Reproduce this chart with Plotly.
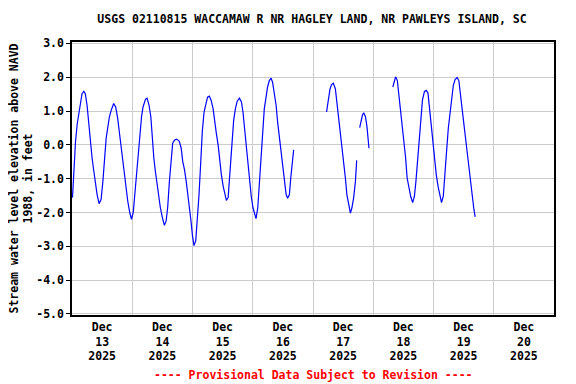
import datetime as dt
import plotly.graph_objects as go

# Hours since 2025-12-13 00:00 and water level (ft); None marks data gaps
hours = [
    0.2, 0.6, 1.0, 1.4, 2.1, 2.7, 3.4, 4.0, 4.7, 5.3, 6.0, 6.7, 7.4, 8.0, 8.7, 9.4, 10.0, 10.8,
    11.6, 12.3, 12.9, 13.6, 14.3, 14.9, 15.6, 16.6, 17.4, 18.2, 19.0, 19.8, 20.6, 21.4, 22.2,
    23.0, 23.7, 24.4, 25.0, 25.7, 26.3, 27.0, 27.7, 28.3, 29.3, 29.9, 30.7, 31.4, 31.9, 32.6,
    33.2, 33.9, 34.5, 35.2, 36.0, 36.8, 37.5, 38.1, 38.8, 39.5, 40.1, 40.8, 41.6, 42.7, 43.5,
    44.1, 44.8, 45.5, 46.1, 46.8, 47.4, 48.0, 48.6, 49.3, 50.0, 50.6, 51.3, 51.9, 52.6, 53.3,
    54.0, 54.7, 55.4, 56.2, 56.8, 57.5, 58.2, 58.8, 59.5, 60.2, 60.8, 61.5, 62.2, 62.8, 63.4,
    63.8, 64.4, 65.1, 65.8, 66.7, 67.5, 68.1, 68.8, 69.5, 70.1, 70.8, 71.4, 72.1, 72.8, 73.3,
    74.0, 74.6, 75.3, 75.9, 76.6, 77.3, 77.9, 78.6, 79.3, 79.9, 80.6, 81.3, 81.9, 82.6, 83.3,
    83.9, 84.6, 85.3, 85.9, 86.6, 87.2, 87.9, 88.3,
    95.0,
    101.4, 102.1, 102.8, 103.4, 104.1, 104.9, 105.5, 106.2, 106.9, 107.5, 108.2, 108.9, 109.5,
    110.2, 110.9, 111.5, 112.2, 112.9, 113.4,
    114.0,
    114.6, 115.2, 115.7, 116.2, 116.9, 117.5, 117.9, 118.3,
    123.0,
    127.8, 128.4, 128.9, 129.6, 130.2, 130.9, 131.5, 132.2, 132.9, 133.5, 134.2, 134.9, 135.7,
    136.4, 137.0, 137.7, 138.3, 139.0, 139.6, 140.4, 141.1, 141.8, 142.4, 143.1, 143.8, 144.4,
    145.1, 145.8, 146.4, 147.2, 147.9, 148.6, 149.2, 149.9, 150.6, 151.2, 151.9, 152.6, 153.4,
    154.1, 154.7, 155.4, 156.0, 156.7, 157.4, 158.0, 158.7, 159.4, 160.1, 160.6,
]
levels = [
    -1.56, -0.88, -0.39, 0.10, 0.63, 0.93, 1.27, 1.51, 1.58, 1.51, 1.17, 0.53, 0.00, -0.39, -0.78, -1.17, -1.47, -1.74,
    -1.61, -1.08, -0.39, 0.19, 0.54, 0.83, 1.02, 1.22, 1.12, 0.78, 0.29, -0.20, -0.78, -1.22, -1.66,
    -2.00, -2.20, -2.00, -1.47, -0.88, -0.15, 0.39, 0.83, 1.12, 1.35, 1.38, 1.17, 0.83, 0.24, -0.39,
    -0.78, -1.17, -1.47, -1.86, -2.15, -2.38, -2.25, -1.86, -1.08, -0.44, 0.05, 0.14, 0.17, 0.11, -0.10,
    -0.49, -0.73, -1.08, -1.42, -1.86, -2.25, -2.69, -2.98, -2.83, -2.15, -1.47, -0.49, 0.39, 0.97, 1.22,
    1.41, 1.44, 1.32, 1.07, 0.68, 0.34, 0.00, -0.49, -0.88, -1.22, -1.47, -1.64, -1.56, -0.98, -0.40,
    0.00, 0.73, 1.07, 1.29, 1.38, 1.27, 0.97, 0.39, -0.15, -0.69, -1.13, -1.52, -1.86, -2.10, -2.18,
    -1.86, -1.17, -0.39, 0.49, 1.07, 1.41, 1.71, 1.90, 1.97, 1.85, 1.56, 1.17, 0.68, 0.24, -0.20,
    -0.69, -1.08, -1.47, -1.58, -1.47, -0.93, -0.49, -0.15,
    None,
    0.97, 1.37, 1.66, 1.78, 1.82, 1.66, 1.27, 0.88, 0.49, -0.05, -0.49, -0.98, -1.47,
    -1.81, -2.02, -1.86, -1.56, -1.08, -0.46,
    None,
    0.51, 0.73, 0.88, 0.95, 0.83, 0.54, 0.19, -0.10,
    None,
    1.71, 1.93, 2.01, 1.90, 1.51, 1.07, 0.58, 0.10, -0.39, -0.98, -1.27, -1.52, -1.71,
    -1.52, -1.08, -0.39, 0.29, 0.88, 1.32, 1.58, 1.61, 1.53, 1.07, 0.63, 0.19, -0.29,
    -0.88, -1.22, -1.47, -1.71, -1.52, -0.93, -0.20, 0.49, 0.97, 1.41, 1.76, 1.93, 1.99,
    1.90, 1.56, 1.17, 0.68, 0.24, -0.20, -0.69, -1.17, -1.56, -1.91, -2.13,
]

day_labels = ["13", "14", "15", "16", "17", "18", "19", "20"]
y_ticks = [3.0, 2.0, 1.0, 0.0, -1.0, -2.0, -3.0, -4.0, -5.0]
y_ticktext = ["3.0", "2.0", "1.0", "0.0", "-1.0", "-2.0", "-3.0", "-4.0", "-5.0"]

base = dt.datetime(2025, 12, 13)
times = [base + dt.timedelta(hours=h) for h in hours]
tick_dates = [dt.datetime(2025, 12, int(d), 12) for d in day_labels]
tick_text = [f"Dec<br>{d}<br>2025" for d in day_labels]

FONT = "DejaVu Sans Mono"
fsize = 11.5

# The page body has an 8px margin, so the figure is sized / placed to compensate.
W, H = 568, 376

fig = go.Figure()
fig.add_trace(go.Scatter(x=times, y=levels, mode="lines",
                         line=dict(color="#0000ff", width=1.2),
                         connectgaps=False, showlegend=False, hoverinfo="skip"))

fig.update_layout(
    width=W, height=H,
    margin=dict(l=64, r=22, t=34, b=69, autoexpand=False),
    paper_bgcolor="white", plot_bgcolor="white",
    font=dict(family=FONT, size=fsize, color="black"),
    title=dict(text="<b>USGS 02110815 WACCAMAW R NR HAGLEY LAND, NR PAWLEYS ISLAND, SC</b>",
               x=304 / W, xanchor="center", y=1 - 11 / H, yanchor="middle",
               font=dict(family=FONT, size=fsize, color="black")),
    xaxis=dict(
        type="date",
        range=[dt.datetime(2025, 12, 13), dt.datetime(2025, 12, 21)],
        tickvals=tick_dates, ticktext=[f"<b>{t}</b>" for t in tick_text],
        showgrid=False, ticks="", showline=True, linecolor="black", linewidth=1.5,
        mirror=True, zeroline=False,
        minor=dict(dtick=86400000, tick0="2025-12-13", showgrid=True,
                   gridcolor="#cccccc", gridwidth=1, ticks=""),
        tickfont=dict(family=FONT, size=fsize, color="black"),
    ),
    yaxis=dict(
        range=[-5.03, 3.04],
        tickvals=y_ticks, ticktext=[f"<b>{t}</b>" for t in y_ticktext],
        showgrid=True, gridcolor="#cccccc", gridwidth=1,
        ticks="outside", ticklen=4, tickcolor="black",
        showline=True, linecolor="black", linewidth=1.5, mirror=True, zeroline=False,
        tickfont=dict(family=FONT, size=fsize, color="black"),
    ),
    annotations=[
        dict(text="<b>Stream water level elevation above NAVD<br>1988, in feet</b>",
             textangle=-90, xref="paper", yref="paper",
             x=(13 - 64) / 482, y=0.5, xanchor="center", yanchor="middle",
             showarrow=False, font=dict(family=FONT, size=fsize, color="black")),
        dict(text="<b>---- Provisional Data Subject to Revision ----</b>",
             xref="paper", yref="paper", x=0.5, y=(307 - 367) / 273,
             xanchor="center", yanchor="middle", showarrow=False,
             font=dict(family=FONT, size=fsize, color="red")),
    ],
)

fig.write_html("out.html")
